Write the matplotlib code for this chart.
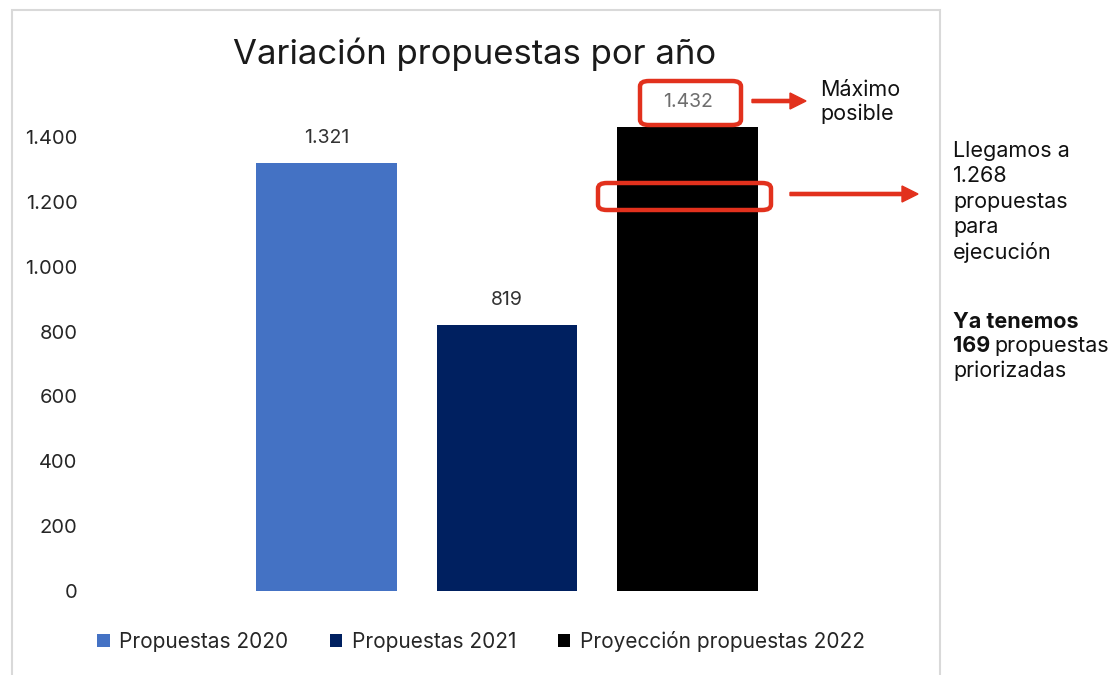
import matplotlib
matplotlib.use("Agg")
import matplotlib.pyplot as plt
from matplotlib.patches import Rectangle, FancyBboxPatch, Patch, FancyArrow
from matplotlib.ticker import FuncFormatter

plt.rcParams['font.family'] = ['Inter', 'DejaVu Sans']

# Data
series = ["Propuestas 2020", "Propuestas 2021", "Proyección propuestas 2022"]
values = [1321, 819, 1432]
colors = ["#4472C4", "#002060", "#000000"]
label_colors = ["#333333", "#333333", "#6e6e6e"]
yticks = [0, 200, 400, 600, 800, 1000, 1200, 1400]

W, H = 1117, 675
fig = plt.figure(figsize=(W / 100, H / 100), dpi=100)


def fx(px):
    return px / W


def fy(py):
    return 1 - py / H


# Plot area: y=0 at 591px, y=1600 at ~72px
ax_left, ax_right = 90, 925
ax_bottom, ax_top = 591, 591 - 1600 * (454 / 1400)
ax = fig.add_axes([fx(ax_left), fy(ax_bottom), fx(ax_right - ax_left),
                   (ax_bottom - ax_top) / H])
x = [0, 1, 2]
ax.bar(x, values, width=0.78, color=colors, zorder=2)
ax.set_xlim((ax_left - 326.5) / 180.5, (ax_right - 326.5) / 180.5)
ax.set_ylim(0, 1600)
ax.set_yticks(yticks)
ax.yaxis.set_major_formatter(FuncFormatter(lambda v, p: f"{int(v):,}".replace(",", ".")))
ax.tick_params(axis='y', length=0, pad=9, labelsize=14.5, labelcolor="#262626")
ax.set_xticks([])
for s in ax.spines.values():
    s.set_visible(False)
ax.patch.set_alpha(0)

for xi, v, lc in zip(x, values, label_colors):
    ax.annotate(f"{v:,}".replace(",", "."), (xi, v), xytext=(0, 16),
                textcoords="offset pixels", ha="center", va="bottom",
                fontsize=14, color=lc)

# Title
fig.text(fx(475), fy(54), "Variación propuestas por año", ha="center", va="center",
         fontsize=25, color="#1a1a1a")

# Legend
handles = [Patch(facecolor=c, edgecolor="none") for c in colors]
fig.legend(handles, series, loc="center", bbox_to_anchor=(fx(481), fy(641)),
           ncol=3, frameon=False, fontsize=15, handlelength=0.6, handleheight=0.6,
           handletextpad=0.45, columnspacing=2.0, labelcolor="#262626")

# Chart border
fig.patches.append(Rectangle((fx(12), fy(700)), fx(940 - 12), (700 - 10) / H,
                             transform=fig.transFigure, fill=False,
                             edgecolor="#d9d9d9", linewidth=1.5))

red = "#e2311d"
# Highlight boxes
for (x0, y0, x1, y1) in [(640, 81, 741, 125), (598, 183, 771, 210)]:
    fig.patches.append(FancyBboxPatch((fx(x0), fy(y1)), fx(x1 - x0), (y1 - y0) / H,
                                      boxstyle="round,pad=0,rounding_size=0.008",
                                      transform=fig.transFigure, fill=False,
                                      edgecolor=red, linewidth=3.2, zorder=5))

# Arrows
for (x0, x1, yy) in [(752, 806, 101), (790, 918, 194)]:
    fig.add_artist(FancyArrow(
        fx(x0), fy(yy), fx(x1 - x0), 0, width=3.2 / H, head_width=16 / H,
        head_length=fx(16), length_includes_head=True, transform=fig.transFigure,
        color=red, zorder=5))

# Side notes
fs = 15.5
fig.text(fx(820), fy(90), "Máximo", ha="left", va="center", fontsize=fs, color="#111111")
fig.text(fx(820), fy(114), "posible", ha="left", va="center", fontsize=fs, color="#111111")

notes = ["Llegamos a", "1.268", "propuestas", "para", "ejecución"]
for i, t in enumerate(notes):
    fig.text(fx(953), fy(151 + i * 25.3), t, ha="left", va="center", fontsize=fs, color="#111111")

fig.text(fx(953), fy(322), "Ya tenemos", ha="left", va="center", fontsize=fs,
         fontweight="bold", color="#111111")
t169 = fig.text(fx(953), fy(346), "169", ha="left", va="center", fontsize=fs,
                fontweight="bold", color="#111111")
fig.canvas.draw()
bb = t169.get_window_extent()
fig.text(bb.x1 / W + fx(4), fy(346), "propuestas", ha="left", va="center",
         fontsize=fs, color="#111111")
fig.text(fx(953), fy(371), "priorizadas", ha="left", va="center", fontsize=fs, color="#111111")

fig.savefig("out.png", dpi=100)
